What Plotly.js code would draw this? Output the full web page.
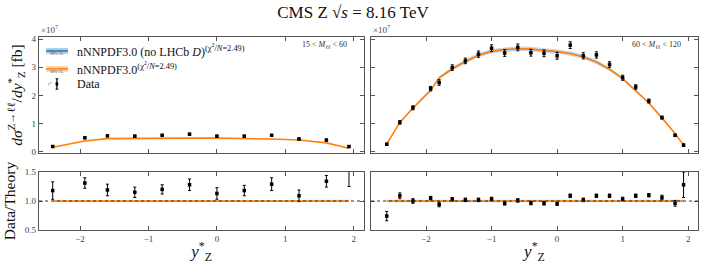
<!DOCTYPE html>
<html>
<head>
<meta charset="utf-8">
<script src="https://cdn.plot.ly/plotly-3.0.1.min.js"></script>
<style>html,body{margin:0;padding:0;background:#fff}#chart{width:706px;height:265px}</style>
</head>
<body>
<div id="chart"></div>
<script>
// ---------- data: low-mass bin 15 < M_ll < 60 ----------
const xLow = [-2.4, -1.93, -1.6, -1.2, -0.8, -0.4, 0.0, 0.4, 0.8, 1.2, 1.6, 1.93];
const dataLow = [0.18, 0.49, 0.56, 0.55, 0.58, 0.62, 0.55, 0.55, 0.58, 0.45, 0.41, 0.18];
const dataLowErr = [0.03, 0.03, 0.03, 0.03, 0.03, 0.03, 0.03, 0.03, 0.03, 0.03, 0.03, 0.03];
const theoryLow = [0.155, 0.38, 0.46, 0.475, 0.48, 0.48, 0.48, 0.47, 0.45, 0.41, 0.31, 0.12];
const ratioLow = [1.18, 1.31, 1.19, 1.15, 1.20, 1.28, 1.13, 1.18, 1.29, 1.09, 1.34, 1.55];
const ratioLowErr = [0.15, 0.09, 0.10, 0.09, 0.08, 0.10, 0.10, 0.09, 0.11, 0.10, 0.10, 0.30];
const relUncBlueLow = [0.010, 0.010, 0.010, 0.010, 0.010, 0.010, 0.010, 0.010, 0.012, 0.02, 0.02, 0.02];
const relUncOrangeLow = [0.015, 0.012, 0.010, 0.010, 0.010, 0.010, 0.010, 0.010, 0.010, 0.010, 0.010, 0.010];

// ---------- data: Z-peak bin 60 < M_ll < 120 ----------
const xPeak = [-2.6, -2.4, -2.2, -1.93, -1.8, -1.6, -1.4, -1.2, -1.0, -0.8, -0.6, -0.4,
               -0.2, 0.0, 0.2, 0.4, 0.6, 0.8, 1.0, 1.2, 1.4, 1.6, 1.8, 1.93];
const dataPeak = [0.26, 1.04, 1.56, 2.24, 2.46, 2.99, 3.23, 3.47, 3.68, 3.51, 3.71, 3.52,
                  3.50, 3.41, 3.79, 3.41, 3.44, 3.10, 2.63, 2.30, 1.80, 1.21, 0.58, 0.23];
const dataPeakErr = [0.04, 0.06, 0.07, 0.08, 0.10, 0.10, 0.10, 0.11, 0.12, 0.12, 0.12, 0.12,
                     0.12, 0.12, 0.12, 0.11, 0.11, 0.10, 0.09, 0.08, 0.07, 0.05, 0.04, 0.04];
const theoryPeak = [0.27, 1.04, 1.55, 2.18, 2.63, 2.95, 3.21, 3.43, 3.57, 3.63, 3.66, 3.65,
                    3.60, 3.56, 3.49, 3.37, 3.19, 2.93, 2.60, 2.18, 1.73, 1.20, 0.64, 0.23];
const ratioPeak = [0.74, 1.09, 1.00, 1.05, 0.94, 1.03, 1.02, 1.02, 1.035, 0.96, 1.01, 0.965,
                   0.96, 0.953, 1.09, 1.02, 1.09, 1.09, 1.035, 1.09, 1.10, 1.06, 0.96, 1.28];
const ratioPeakErr = [0.08, 0.05, 0.04, 0.03, 0.04, 0.03, 0.03, 0.03, 0.03, 0.03, 0.03, 0.03,
                      0.03, 0.03, 0.03, 0.03, 0.03, 0.03, 0.03, 0.03, 0.03, 0.04, 0.05, 0.22];
const relUncBluePeak = [0.02, 0.02, 0.02, 0.02, 0.02, 0.02, 0.022, 0.022, 0.022, 0.022, 0.022, 0.022,
                        0.022, 0.022, 0.022, 0.022, 0.022, 0.022, 0.02, 0.02, 0.02, 0.02, 0.02, 0.02];
const relUncOrangePeak = [0.008, 0.008, 0.008, 0.008, 0.008, 0.008, 0.008, 0.008, 0.008, 0.008, 0.008, 0.008,
                          0.008, 0.008, 0.008, 0.008, 0.008, 0.008, 0.008, 0.008, 0.008, 0.008, 0.008, 0.008];

const titleText = 'CMS Z √<i>s</i> = 8.16 TeV';
const labelLow = '15 &lt; <i>M</i><sub>ℓℓ</sub> &lt; 60';
const labelPeak = '60 &lt; <i>M</i><sub>ℓℓ</sub> &lt; 120';
const legendBlue = 'nNNPDF3.0 (no LHCb <i>D</i>)<sup>(χ<sup>2</sup>/<i>N</i>=2.49)</sup>';
const legendOrange = 'nNNPDF3.0<sup>(χ<sup>2</sup>/<i>N</i>=2.49)</sup>';
const legendData = 'Data';

// ---------- styles ----------
const SERIF = 'Liberation Serif, DejaVu Serif, serif';
const ORANGE = '#ff7f0e';
const BLUE_FILL = 'rgba(31,119,180,0.28)';
const ORANGE_FILL = 'rgba(255,127,14,0.35)';
const FRAME = '#555';

function band(x, center, rel, xa, ya, fillColor) {
  const lo = center.map((c, i) => c * (1 - rel[i]));
  const hi = center.map((c, i) => c * (1 + rel[i]));
  return [
    {x: x, y: lo, xaxis: xa, yaxis: ya, mode: 'lines', line: {width: 0, color: fillColor},
     hoverinfo: 'skip', showlegend: false},
    {x: x, y: hi, xaxis: xa, yaxis: ya, mode: 'lines', line: {width: 0, color: fillColor},
     fill: 'tonexty', fillcolor: fillColor, hoverinfo: 'skip', showlegend: false}
  ];
}
function line(x, y, xa, ya) {
  return {x: x, y: y, xaxis: xa, yaxis: ya, mode: 'lines', line: {color: ORANGE, width: 1.6},
          showlegend: false, hoverinfo: 'skip'};
}
function points(x, y, err, xa, ya) {
  return {x: x, y: y, xaxis: xa, yaxis: ya, mode: 'markers', type: 'scatter',
          marker: {color: '#000', size: 3.5, symbol: 'square'},
          error_y: {type: 'data', array: err, visible: true, color: '#000', thickness: 1, width: 1.5},
          showlegend: false};
}
const ones = a => a.map(() => 1);

const traces = [].concat(
  band(xLow, theoryLow, relUncBlueLow, 'x', 'y', BLUE_FILL),
  band(xLow, theoryLow, relUncOrangeLow, 'x', 'y', ORANGE_FILL),
  [line(xLow, theoryLow, 'x', 'y'), points(xLow, dataLow, dataLowErr, 'x', 'y')],
  band(xPeak, theoryPeak, relUncBluePeak, 'x2', 'y2', BLUE_FILL),
  band(xPeak, theoryPeak, relUncOrangePeak, 'x2', 'y2', ORANGE_FILL),
  [line(xPeak, theoryPeak, 'x2', 'y2'), points(xPeak, dataPeak, dataPeakErr, 'x2', 'y2')],
  band(xLow, ones(xLow), relUncBlueLow, 'x3', 'y3', BLUE_FILL),
  band(xLow, ones(xLow), relUncOrangeLow, 'x3', 'y3', ORANGE_FILL),
  [line(xLow, ones(xLow), 'x3', 'y3'), points(xLow, ratioLow, ratioLowErr, 'x3', 'y3')],
  band(xPeak, ones(xPeak), relUncBluePeak, 'x4', 'y4', BLUE_FILL),
  band(xPeak, ones(xPeak), relUncOrangePeak, 'x4', 'y4', ORANGE_FILL),
  [line(xPeak, ones(xPeak), 'x4', 'y4'), points(xPeak, ratioPeak, ratioPeakErr, 'x4', 'y4')]
);

const axBase = {
  showline: true, mirror: 'ticks', linecolor: FRAME, linewidth: 1.2,
  ticks: 'inside', ticklen: 4, tickcolor: FRAME, showgrid: false, zeroline: false,
  tickfont: {family: SERIF, size: 9, color: '#444'}
};
const xRangeLow = [-2.6, 2.15];
const xRangePeak = [-2.84, 2.15];
const domL = [0, 0.4932], domR = [0.5038, 1];
const domTop = [0.399, 1], domBot = [0, 0.3005];
const xTicks = [-2, -1, 0, 1, 2];

const xTitle = {text: '<i>y</i><sup>*</sup><sub>Z</sub>', font: {family: SERIF, size: 17, color: '#111'}, standoff: 2};

const layout = {
  width: 706, height: 265,
  margin: {l: 39, r: 8, t: 37, b: 35},
  paper_bgcolor: '#fff', plot_bgcolor: '#fff',
  showlegend: false,
  title: {text: titleText, font: {family: SERIF, size: 17, color: '#111'}, x: 0.5, xanchor: 'center', y: 0.955, yanchor: 'middle'},
  xaxis: Object.assign({}, axBase, {domain: domL, anchor: 'y', range: xRangeLow, tickvals: xTicks, showticklabels: false}),
  yaxis: Object.assign({}, axBase, {domain: domTop, anchor: 'x', range: [-0.05, 4.08], tickvals: [0, 1, 2, 3, 4],
    title: {text: '<i>dσ</i><sup>Z→ℓℓ</sup>/<i>dy</i><sup>*</sup><sub>Z</sub> [fb]', font: {family: SERIF, size: 15.5, color: '#111'}, standoff: 5}}),
  xaxis2: Object.assign({}, axBase, {domain: domR, anchor: 'y2', range: xRangePeak, tickvals: xTicks, showticklabels: false}),
  yaxis2: Object.assign({}, axBase, {domain: domTop, anchor: 'x2', range: [-0.05, 4.08], tickvals: [0, 1, 2, 3, 4], showticklabels: false}),
  xaxis3: Object.assign({}, axBase, {domain: domL, anchor: 'y3', range: xRangeLow, tickvals: xTicks, title: xTitle}),
  yaxis3: Object.assign({}, axBase, {domain: domBot, anchor: 'x3', range: [0.5, 1.5], tickvals: [0.5, 1.0, 1.5], ticktext: ['0.5', '1.0', '1.5'],
    title: {text: 'Data/Theory', font: {family: SERIF, size: 15.5, color: '#111'}, standoff: 5}}),
  xaxis4: Object.assign({}, axBase, {domain: domR, anchor: 'y4', range: xRangePeak, tickvals: xTicks, title: xTitle}),
  yaxis4: Object.assign({}, axBase, {domain: domBot, anchor: 'x4', range: [0.5, 1.5], tickvals: [0.5, 1.0, 1.5], showticklabels: false}),
  shapes: [
    {type: 'line', xref: 'x3 domain', yref: 'y3', x0: 0, x1: 1, y0: 1, y1: 1, line: {color: '#333', width: 1, dash: 'dot'}, layer: 'above'},
    {type: 'line', xref: 'x4 domain', yref: 'y4', x0: 0, x1: 1, y0: 1, y1: 1, line: {color: '#333', width: 1, dash: 'dot'}, layer: 'above'},
    // legend patches (placed in the top-left panel)
    {type: 'rect', xref: 'x domain', yref: 'y domain', x0: 0.022, x1: 0.089, y0: 0.855, y1: 0.905, fillcolor: 'rgba(31,119,180,0.35)', line: {width: 0}},
    {type: 'line', xref: 'x domain', yref: 'y domain', x0: 0.022, x1: 0.089, y0: 0.88, y1: 0.88, line: {color: '#1f77b4', width: 1.5}},
    {type: 'rect', xref: 'x domain', yref: 'y domain', x0: 0.022, x1: 0.089, y0: 0.70, y1: 0.75, fillcolor: 'rgba(255,127,14,0.35)', line: {width: 0}},
    {type: 'line', xref: 'x domain', yref: 'y domain', x0: 0.022, x1: 0.089, y0: 0.725, y1: 0.725, line: {color: ORANGE, width: 1.5}},
    {type: 'line', xref: 'x domain', yref: 'y domain', x0: 0.055, x1: 0.055, y0: 0.55, y1: 0.64, line: {color: '#000', width: 1.2}},
    {type: 'line', xref: 'x domain', yref: 'y domain', x0: 0.051, x1: 0.059, y0: 0.64, y1: 0.64, line: {color: '#000', width: 1}},
    {type: 'line', xref: 'x domain', yref: 'y domain', x0: 0.051, x1: 0.059, y0: 0.55, y1: 0.55, line: {color: '#000', width: 1}},
    {type: 'rect', xref: 'x domain', yref: 'y domain', x0: 0.051, x1: 0.059, y0: 0.58, y1: 0.61, fillcolor: '#000', line: {width: 0}}
  ],
  annotations: [
    {text: '×10<sup>7</sup>', xref: 'x domain', yref: 'y domain', x: 0, y: 1.0, xanchor: 'left', yanchor: 'bottom', showarrow: false, font: {family: SERIF, size: 9, color: '#444'}},
    {text: '×10<sup>7</sup>', xref: 'x2 domain', yref: 'y2 domain', x: 0, y: 1.0, xanchor: 'left', yanchor: 'bottom', showarrow: false, font: {family: SERIF, size: 9, color: '#444'}},
    {text: labelLow, xref: 'x domain', yref: 'y domain', x: 0.955, y: 0.93, xanchor: 'right', yanchor: 'middle', showarrow: false, font: {family: SERIF, size: 8, color: '#333'}},
    {text: labelPeak, xref: 'x2 domain', yref: 'y2 domain', x: 0.955, y: 0.93, xanchor: 'right', yanchor: 'middle', showarrow: false, font: {family: SERIF, size: 8, color: '#333'}},
    {text: '68% CL', xref: 'x domain', yref: 'y domain', x: 0.0555, y: 0.86, xanchor: 'center', yanchor: 'middle', showarrow: false, font: {family: SERIF, size: 4, color: '#444'}},
    {text: '68% CL', xref: 'x domain', yref: 'y domain', x: 0.0555, y: 0.705, xanchor: 'center', yanchor: 'middle', showarrow: false, font: {family: SERIF, size: 4, color: '#444'}},
    {text: '<i>y</i>*', xref: 'x domain', yref: 'y domain', x: 0.046, y: 0.595, xanchor: 'right', yanchor: 'middle', showarrow: false, font: {family: SERIF, size: 4, color: '#444'}},
    {text: legendBlue, xref: 'x domain', yref: 'y domain', x: 0.11, y: 0.88, xanchor: 'left', yanchor: 'middle', showarrow: false, font: {family: SERIF, size: 12, color: '#111'}},
    {text: legendOrange, xref: 'x domain', yref: 'y domain', x: 0.11, y: 0.725, xanchor: 'left', yanchor: 'middle', showarrow: false, font: {family: SERIF, size: 12, color: '#111'}},
    {text: legendData, xref: 'x domain', yref: 'y domain', x: 0.11, y: 0.595, xanchor: 'left', yanchor: 'middle', showarrow: false, font: {family: SERIF, size: 12, color: '#111'}}
  ]
};

Plotly.newPlot('chart', traces, layout, {displayModeBar: false, staticPlot: true});
</script>
</body>
</html>
